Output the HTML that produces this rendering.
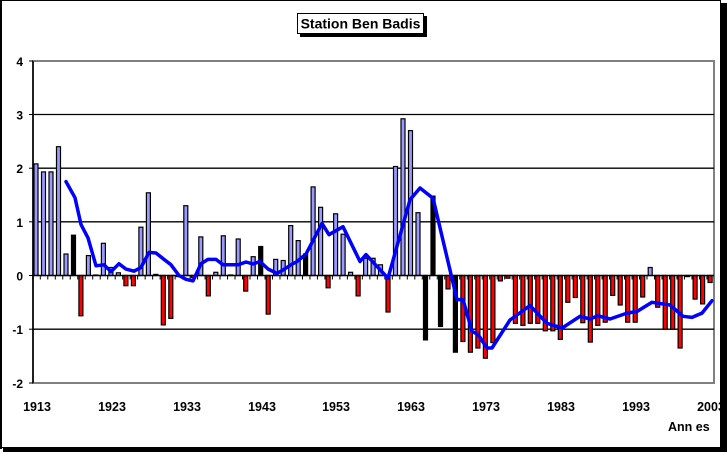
<!DOCTYPE html>
<html><head><meta charset="utf-8"><style>
html,body{margin:0;padding:0;background:#fff;}
svg{display:block;font-family:"Liberation Sans",Arial,sans-serif;font-weight:bold;}
</style></head><body>
<svg width="727" height="452" viewBox="0 0 727 452" xmlns="http://www.w3.org/2000/svg">
<rect x="0" y="0" width="727" height="452" fill="#fff"/>
<rect x="0.5" y="0.5" width="720" height="447" fill="none" stroke="#000" stroke-width="1"/>
<rect x="721" y="3" width="6" height="449" fill="#000"/>
<rect x="3" y="448" width="724" height="4" fill="#000"/>
<rect x="0" y="0" width="2" height="449" fill="#000"/>
<rect x="300" y="16" width="127" height="21" fill="#000"/>
<rect x="297.5" y="13.5" width="126" height="20" fill="#fff" stroke="#000" stroke-width="1"/>
<text x="360.5" y="28.5" font-size="14" text-anchor="middle" fill="#000">Station Ben Badis</text>
<rect x="33" y="61" width="681" height="322" fill="#fff" stroke="#808080" stroke-width="2"/>
<g stroke="#000" stroke-width="1.3">
<line x1="33" y1="114.5" x2="714" y2="114.5"/>
<line x1="33" y1="168.2" x2="714" y2="168.2"/>
<line x1="33" y1="221.8" x2="714" y2="221.8"/>
<line x1="33" y1="329.2" x2="714" y2="329.2"/>
</g>
<line x1="33" y1="61" x2="33" y2="383" stroke="#000" stroke-width="1.5"/>
<g stroke="#000" stroke-width="1">
<line x1="29" y1="61" x2="33" y2="61"/><line x1="29" y1="114.5" x2="33" y2="114.5"/>
<line x1="29" y1="168.2" x2="33" y2="168.2"/><line x1="29" y1="221.8" x2="33" y2="221.8"/>
<line x1="29" y1="275.5" x2="33" y2="275.5"/><line x1="29" y1="329.2" x2="33" y2="329.2"/>
<line x1="29" y1="383" x2="33" y2="383"/>
</g>
<g font-size="12" text-anchor="end" fill="#000">
<text x="23" y="66">4</text><text x="23" y="119.5">3</text><text x="23" y="173">2</text>
<text x="23" y="227">1</text><text x="23" y="280.5">0</text><text x="23" y="334">-1</text>
<text x="23" y="388">-2</text>
</g>
<g stroke="#000" stroke-width="1.2" fill="#9999ff">
<rect x="34" y="163.9" width="4" height="111.6"/>
<rect x="41.5" y="171.9" width="4" height="103.6"/>
<rect x="49" y="171.9" width="4" height="103.6"/>
<rect x="56.5" y="146.7" width="4" height="128.8"/>
<rect x="64" y="254" width="4" height="21.5"/>
<rect x="71.5" y="235.2" width="4" height="40.3" fill="#000"/>
<rect x="78.9" y="275.5" width="4" height="40.3" fill="#f00"/>
<rect x="86.4" y="255.6" width="4" height="19.9"/>
<rect x="93.9" y="275" width="4" height="0.5"/>
<rect x="101.4" y="243.3" width="4" height="32.2"/>
<rect x="108.9" y="267.5" width="4" height="8"/>
<rect x="116.4" y="272.8" width="4" height="2.7"/>
<rect x="123.9" y="275.5" width="4" height="10.2" fill="#f00"/>
<rect x="131.4" y="275.5" width="4" height="10.2" fill="#f00"/>
<rect x="138.9" y="227.2" width="4" height="48.3"/>
<rect x="146.4" y="192.8" width="4" height="82.7"/>
<rect x="153.8" y="274.4" width="4" height="1.1"/>
<rect x="161.3" y="275.5" width="4" height="49.4" fill="#f00"/>
<rect x="168.8" y="275.5" width="4" height="42.9" fill="#f00"/>
<rect x="176.3" y="275.5" width="4" height="1.1" fill="#f00"/>
<rect x="183.8" y="205.7" width="4" height="69.8"/>
<rect x="191.3" y="275.5" width="4" height="2.1" fill="#f00"/>
<rect x="198.8" y="236.9" width="4" height="38.6"/>
<rect x="206.3" y="275.5" width="4" height="20.4" fill="#f00"/>
<rect x="213.8" y="272.3" width="4" height="3.2"/>
<rect x="221.3" y="235.8" width="4" height="39.7"/>
<rect x="228.7" y="275" width="4" height="0.5"/>
<rect x="236.2" y="239" width="4" height="36.5"/>
<rect x="243.7" y="275.5" width="4" height="15.6" fill="#f00"/>
<rect x="251.2" y="256.7" width="4" height="18.8"/>
<rect x="258.7" y="246.5" width="4" height="29" fill="#000"/>
<rect x="266.2" y="275.5" width="4" height="38.6" fill="#f00"/>
<rect x="273.7" y="259.4" width="4" height="16.1"/>
<rect x="281.2" y="260.5" width="4" height="15"/>
<rect x="288.7" y="225.6" width="4" height="49.9"/>
<rect x="296.2" y="240.6" width="4" height="34.9"/>
<rect x="303.6" y="254" width="4" height="21.5" fill="#000"/>
<rect x="311.1" y="186.9" width="4" height="88.6"/>
<rect x="318.6" y="207.3" width="4" height="68.2"/>
<rect x="326.1" y="275.5" width="4" height="12.3" fill="#f00"/>
<rect x="333.6" y="213.8" width="4" height="61.7"/>
<rect x="341.1" y="234.2" width="4" height="41.3"/>
<rect x="348.6" y="272.3" width="4" height="3.2"/>
<rect x="356.1" y="275.5" width="4" height="20.4" fill="#f00"/>
<rect x="363.6" y="258.3" width="4" height="17.2"/>
<rect x="371.1" y="258.3" width="4" height="17.2"/>
<rect x="378.5" y="264.8" width="4" height="10.7"/>
<rect x="386" y="275.5" width="4" height="36.5" fill="#f00"/>
<rect x="393.5" y="166.5" width="4" height="109"/>
<rect x="401" y="118.8" width="4" height="156.7"/>
<rect x="408.5" y="130.6" width="4" height="144.9"/>
<rect x="416" y="212.7" width="4" height="62.8"/>
<rect x="423.5" y="275.5" width="4" height="64.4" fill="#000"/>
<rect x="431" y="196.1" width="4" height="79.4" fill="#000"/>
<rect x="438.5" y="275.5" width="4" height="51" fill="#000"/>
<rect x="446" y="275.5" width="4" height="13.4" fill="#f00"/>
<rect x="453.4" y="275.5" width="4" height="76.7" fill="#000"/>
<rect x="460.9" y="275.5" width="4" height="66" fill="#f00"/>
<rect x="468.4" y="275.5" width="4" height="76.7" fill="#f00"/>
<rect x="475.9" y="275.5" width="4" height="72.5" fill="#f00"/>
<rect x="483.4" y="275.5" width="4" height="82.7" fill="#f00"/>
<rect x="490.9" y="275.5" width="4" height="67.1" fill="#f00"/>
<rect x="498.4" y="275.5" width="4" height="5.4" fill="#f00"/>
<rect x="505.9" y="275.5" width="4" height="2.7" fill="#f00"/>
<rect x="513.4" y="275.5" width="4" height="47.8" fill="#f00"/>
<rect x="520.9" y="275.5" width="4" height="49.9" fill="#f00"/>
<rect x="528.3" y="275.5" width="4" height="47.8" fill="#f00"/>
<rect x="535.8" y="275.5" width="4" height="47.8" fill="#f00"/>
<rect x="543.3" y="275.5" width="4" height="55.3" fill="#f00"/>
<rect x="550.8" y="275.5" width="4" height="55.3" fill="#f00"/>
<rect x="558.3" y="275.5" width="4" height="63.9" fill="#f00"/>
<rect x="565.8" y="275.5" width="4" height="26.8" fill="#f00"/>
<rect x="573.3" y="275.5" width="4" height="22" fill="#f00"/>
<rect x="580.8" y="275.5" width="4" height="47.2" fill="#f00"/>
<rect x="588.3" y="275.5" width="4" height="66.6" fill="#f00"/>
<rect x="595.8" y="275.5" width="4" height="49.9" fill="#f00"/>
<rect x="603.2" y="275.5" width="4" height="46.7" fill="#f00"/>
<rect x="610.7" y="275.5" width="4" height="19.9" fill="#f00"/>
<rect x="618.2" y="275.5" width="4" height="29.5" fill="#f00"/>
<rect x="625.7" y="275.5" width="4" height="46.7" fill="#f00"/>
<rect x="633.2" y="275.5" width="4" height="46.7" fill="#f00"/>
<rect x="640.7" y="275.5" width="4" height="21.5" fill="#f00"/>
<rect x="648.2" y="267.5" width="4" height="8"/>
<rect x="655.7" y="275.5" width="4" height="31.7" fill="#f00"/>
<rect x="663.2" y="275.5" width="4" height="53.7" fill="#f00"/>
<rect x="670.7" y="275.5" width="4" height="53.7" fill="#f00"/>
<rect x="678.1" y="275.5" width="4" height="72.5" fill="#f00"/>
<rect x="685.6" y="275.5" width="4" height="1.1" fill="#f00"/>
<rect x="693.1" y="275.5" width="4" height="23.6" fill="#f00"/>
<rect x="700.6" y="275.5" width="4" height="28.4" fill="#f00"/>
<rect x="708.1" y="275.5" width="4" height="7" fill="#f00"/>
</g>
<line x1="33" y1="275.5" x2="714" y2="275.5" stroke="#000" stroke-width="1.5"/>
<line x1="32.3" y1="277.5" x2="714" y2="277.5" stroke="#000" stroke-width="4" stroke-dasharray="1 6.49"/>
<polyline fill="none" stroke="#0000ff" stroke-width="3.5" stroke-linejoin="round" stroke-linecap="round" points="66,181.6 75,197.7 81,224.5 88,237.9 96,265.8 104,264.8 111,271.7 119,263.7 126,269.1 134,271.2 141,267.5 149,252.4 156,253 164,259.4 171,264.8 179,275.5 186,279.3 193,280.9 201,263.7 208,259.4 216,259.4 223,264.8 231,264.8 238,264.8 246,262 253,264 260,261.5 268,269 277,273.4 283,270 291,264.8 297,261.5 306,254 322,223.4 329,234.7 343,226.7 360,261.5 366,254.6 388,278.2 410,199.8 420,188 433,198.2 457,299.6 463,299.6 472,331.3 478,334.5 487,348 492,348 510,320 530,305.6 547,323.3 562,328.1 580,316.3 590,319 598,315.8 610,319 627,313.1 637,311.5 652,302.3 670,305 683,316.3 692,317.4 702,313.1 712,300.7"/>
<g font-size="12.5" text-anchor="middle" fill="#000">
<text x="37" y="411">1913</text><text x="112" y="411">1923</text><text x="187" y="411">1933</text>
<text x="262" y="411">1943</text><text x="336" y="411">1953</text><text x="411" y="411">1963</text>
<text x="486" y="411">1973</text><text x="561" y="411">1983</text><text x="636" y="411">1993</text>
<text x="711" y="411">2003</text>
</g>
<text x="668" y="431" font-size="12.5" fill="#000">Ann  es</text>
</svg>
</body></html>
